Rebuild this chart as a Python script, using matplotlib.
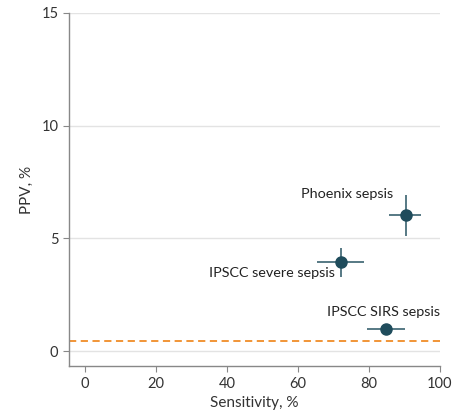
import matplotlib.pyplot as plt

plt.rcParams['font.family'] = ['Lato', 'DejaVu Sans']

# data
labels = ["Phoenix sepsis", "IPSCC severe sepsis", "IPSCC SIRS sepsis"]
sens = [90.4, 72.1, 84.8]
sens_lo = [85.6, 65.4, 79.4]
sens_hi = [94.6, 78.6, 90.1]
ppv = [6.03, 3.95, 0.98]
ppv_lo = [5.1, 3.28, 0.88]
ppv_hi = [6.9, 4.57, 1.08]
baseline_ppv = 0.44

# label placement (data coords), right-aligned
label_pos = [(86.9, 6.95), (70.3, 3.45), (100, 1.75)]

fig = plt.figure(figsize=(4.68, 4.17), dpi=100)
ax = fig.add_axes([0.147, 0.122, 0.793, 0.847])

ax.axhline(baseline_ppv, color="#f08c28", ls=(0, (4, 2.5)), lw=1.3, zorder=2)

xerr = [[s - lo for s, lo in zip(sens, sens_lo)], [hi - s for s, hi in zip(sens, sens_hi)]]
yerr = [[p - lo for p, lo in zip(ppv, ppv_lo)], [hi - p for p, hi in zip(ppv, ppv_hi)]]
ax.errorbar(sens, ppv, xerr=xerr, yerr=yerr, fmt="o", color="#1f4c5c",
            ecolor="#3a6270", elinewidth=1.2, capsize=0, markersize=8, zorder=3)

for lab, (tx, ty) in zip(labels, label_pos):
    ax.text(tx, ty, lab, ha="right", va="center", fontsize=10.4, color="#222222")

ax.set_xlim(-4.5, 100)
ax.set_ylim(-0.67, 15)
ax.set_xticks([0, 20, 40, 60, 80, 100])
ax.set_yticks([0, 5, 10, 15])
ax.yaxis.grid(True, color="#e3e3e3", lw=1)
ax.set_axisbelow(True)

for s in ["top", "right"]:
    ax.spines[s].set_visible(False)
for s in ["left", "bottom"]:
    ax.spines[s].set_color("#888888")
    ax.spines[s].set_linewidth(1.0)
ax.tick_params(colors="#888888", labelcolor="#333333", labelsize=10.5, length=4)

ax.set_xlabel("Sensitivity, %", fontsize=11, color="#333333", labelpad=4)
ax.set_ylabel("PPV, %", fontsize=11, color="#333333", labelpad=5)

fig.savefig("out.png", dpi=100)
